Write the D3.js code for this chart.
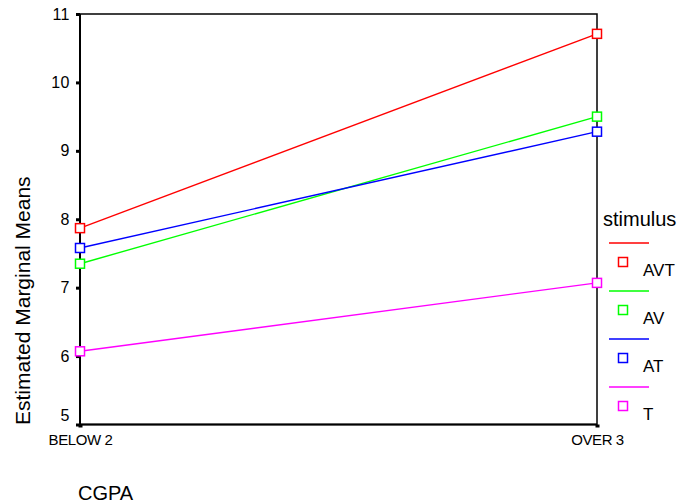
<!DOCTYPE html>
<html><head><meta charset="utf-8">
<script src="https://cdn.jsdelivr.net/npm/d3@7"></script>
<style>body{margin:0;background:#fff}svg{display:block;font-family:Arial,"Liberation Sans",sans-serif}</style>
</head><body>
<svg id="c" width="681" height="504"></svg>
<script>
const categories = ["BELOW 2", "OVER 3"];
const seriesNames = ["AVT", "AV", "AT", "T"];
const seriesColors = ["#ff0000", "#00ff00", "#0000ff", "#ff00ff"];
const valuesAVT = [7.87, 10.71];
const valuesAV = [7.35, 9.50];
const valuesAT = [7.58, 9.28];
const valuesT = [6.07, 7.07];
const yTicks = [5, 6, 7, 8, 9, 10, 11];

const series = [valuesAVT, valuesAV, valuesAT, valuesT].map((v, i) => ({name: seriesNames[i], color: seriesColors[i], values: v}));

const svg = d3.select("#c");
const L = 80, R = 597, T = 14, B = 424.5;
const x = d3.scalePoint().domain(categories).range([L, R]);
const y = d3.scaleLinear().domain([5, 11]).range([B, T]);

// frame
svg.append("rect").attr("x", L).attr("y", T).attr("width", R - L).attr("height", B - T)
  .attr("fill", "none").attr("stroke", "#000").attr("stroke-width", 1.5);
svg.append("line").attr("x1", L).attr("x2", L).attr("y1", T).attr("y2", B).attr("stroke", "#000").attr("stroke-width", 2);
svg.append("line").attr("x1", L).attr("x2", R).attr("y1", B).attr("y2", B).attr("stroke", "#000").attr("stroke-width", 2);

// y axis
const yAxis = d3.axisLeft(y).tickValues(yTicks).tickSize(4).tickPadding(6).tickFormat(d3.format("d"));
const gy = svg.append("g").attr("transform", `translate(${L},0)`).call(yAxis);
gy.select(".domain").remove();
gy.selectAll(".tick line").attr("stroke", "#000").attr("stroke-width", 3);
gy.selectAll(".tick text").attr("font-size", 16).attr("letter-spacing", 0.5).attr("font-family", "Arial, 'Liberation Sans', sans-serif").attr("fill", "#000");
// lowest label sits a little above its tick, as in the reference
gy.selectAll(".tick text").filter(d => d === yTicks[0]).attr("dy", "-0.28em");

// x axis
const xAxis = d3.axisBottom(x).tickSize(3).tickPadding(7);
const gx = svg.append("g").attr("transform", `translate(0,${B})`).call(xAxis);
gx.select(".domain").remove();
gx.selectAll(".tick line").attr("stroke", "#000").attr("stroke-width", 4);
gx.selectAll(".tick text").attr("font-size", 15).attr("letter-spacing", -0.4).attr("font-family", "Arial, 'Liberation Sans', sans-serif").attr("fill", "#000");

// lines
const line = d3.line().x((d, i) => x(categories[i])).y(d => y(d));
svg.append("g").selectAll("path").data(series).join("path")
  .attr("d", d => line(d.values)).attr("fill", "none").attr("stroke", d => d.color).attr("stroke-width", 1.4);

// markers
const ms = 9;
series.forEach(s => {
  svg.append("g").selectAll("rect").data(s.values).join("rect")
    .attr("x", (d, i) => x(categories[i]) - ms / 2).attr("y", d => y(d) - ms / 2)
    .attr("width", ms).attr("height", ms).attr("fill", "#fff").attr("stroke", s.color).attr("stroke-width", 1.5);
});

// titles
svg.append("text").attr("transform", `translate(30,425) rotate(-90)`).attr("font-size", 21).text("Estimated Marginal Means");
svg.append("text").attr("x", 78).attr("y", 500).attr("font-size", 20).text("CGPA");

// legend
svg.append("text").attr("x", 603).attr("y", 226).attr("font-size", 20).text("stimulus");
const lg = svg.append("g").selectAll("g").data(series).join("g")
  .attr("transform", (d, i) => `translate(0,${i * 48})`);
lg.append("line").attr("x1", 609).attr("x2", 649).attr("y1", 243).attr("y2", 243).attr("stroke", d => d.color).attr("stroke-width", 1.4);
lg.append("rect").attr("x", 618.5).attr("y", 257.5).attr("width", ms).attr("height", ms).attr("fill", "#fff").attr("stroke", d => d.color).attr("stroke-width", 1.5);
lg.append("text").attr("x", 643).attr("y", 276).attr("font-size", 17).text(d => d.name);
</script>
</body></html>
